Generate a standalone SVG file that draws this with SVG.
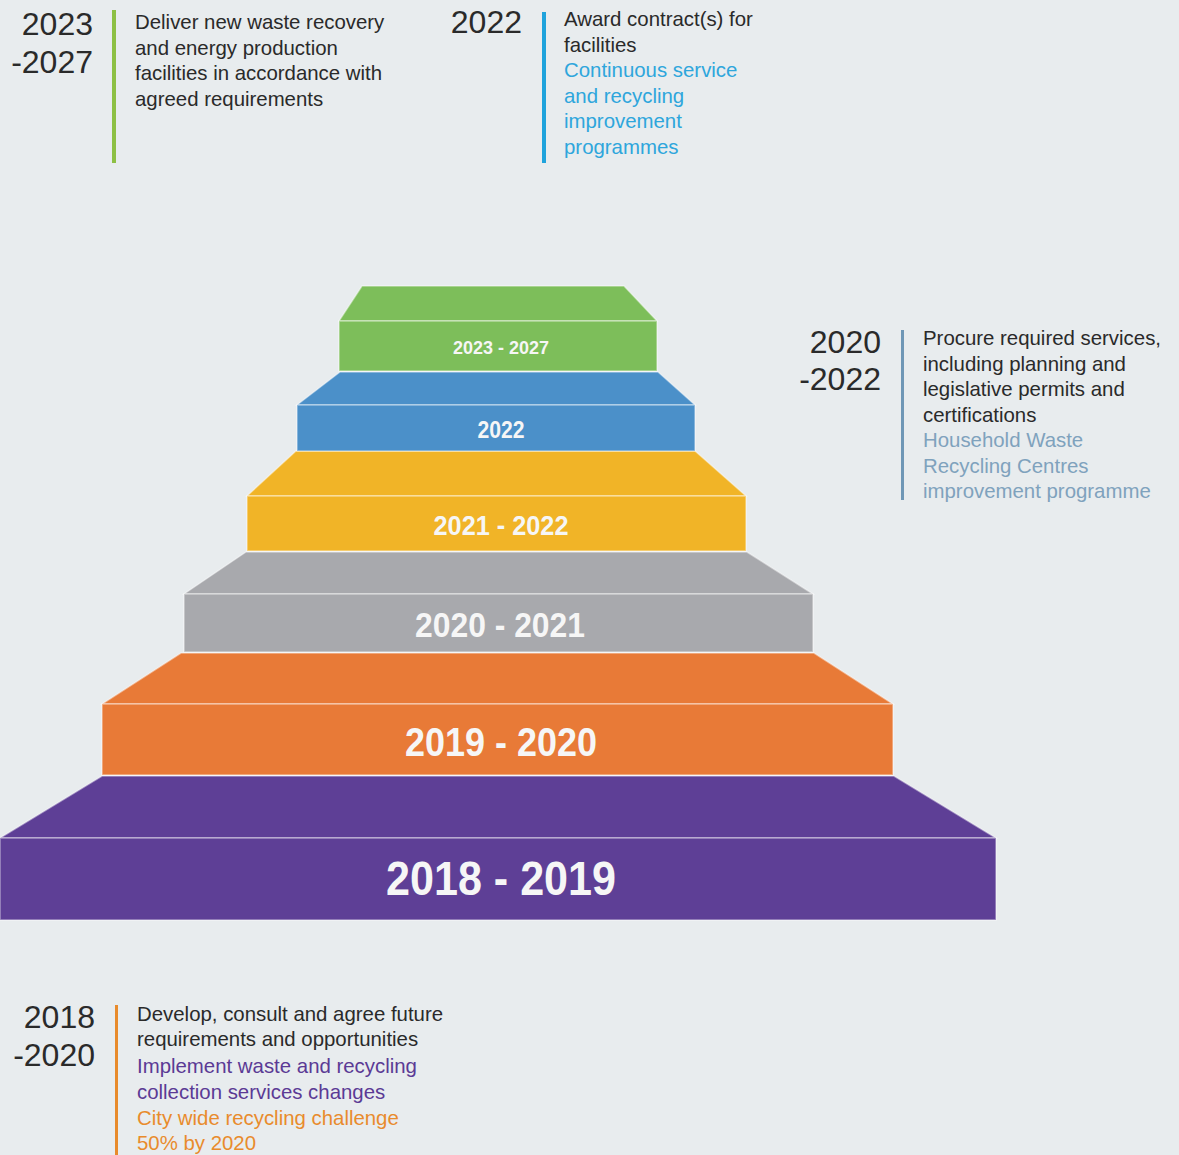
<svg xmlns="http://www.w3.org/2000/svg" width="1179" height="1155" viewBox="0 0 1179 1155">
<style>
.yr{font-family:"Liberation Sans",Arial,sans-serif;font-size:32px;fill:#2a2a2a;text-anchor:end}
.tx{font-family:"Liberation Sans",Arial,sans-serif;font-size:20.4px;fill:#2a2a2a}
.bl{fill:#2ea6dc}
.sb{fill:#7fa2bd}
.pu{fill:#5b3a95}
.or{fill:#e88b2c}
.lab{font-family:"Liberation Sans",Arial,sans-serif;font-weight:bold;fill:#f6f6f6;text-anchor:middle}
.face{stroke:#ffffff;stroke-opacity:0.45;stroke-width:1.5}
</style>
<rect x="0" y="0" width="1179" height="1155" fill="#e8ecee"/>

<g id="step-2018-2019">
<polygon class="face" points="102,776 894,776 996,838 0,838" fill="#5e3f96"/>
<rect class="face" x="0" y="838" width="996" height="82" fill="#5e3f96"/>
<text class="lab" x="501" y="895" font-size="48" textLength="230" lengthAdjust="spacingAndGlyphs">2018 - 2019</text>
</g>
<g id="step-2019-2020">
<polygon class="face" points="181,653 814,653 893,704 102,704" fill="#e87a37"/>
<rect class="face" x="102" y="704" width="791" height="71" fill="#e87a37"/>
<text class="lab" x="501" y="756" font-size="40" textLength="192" lengthAdjust="spacingAndGlyphs">2019 - 2020</text>
</g>
<g id="step-2020-2021">
<polygon class="face" points="246,552 747,552 813,594 184,594" fill="#a8a9ad"/>
<rect class="face" x="184" y="594" width="629" height="58" fill="#a8a9ad"/>
<text class="lab" x="500" y="637" font-size="35" textLength="170" lengthAdjust="spacingAndGlyphs">2020 - 2021</text>
</g>
<g id="step-2021-2022">
<polygon class="face" points="296,451 695,451 746,496 247,496" fill="#f1b427"/>
<rect class="face" x="247" y="496" width="499" height="55" fill="#f1b427"/>
<text class="lab" x="501" y="535" font-size="28" textLength="135" lengthAdjust="spacingAndGlyphs">2021 - 2022</text>
</g>
<g id="step-2022">
<polygon class="face" points="340,372 658,372 695,405 297,405" fill="#4b90c9"/>
<rect class="face" x="297" y="405" width="398" height="46" fill="#4b90c9"/>
<text class="lab" x="501" y="438" font-size="23" textLength="47" lengthAdjust="spacingAndGlyphs">2022</text>
</g>
<g id="step-2023-2027">
<polygon class="face" points="362,286 624,286 657,321 339,321" fill="#7dbe5a"/>
<rect class="face" x="339" y="321" width="318" height="50" fill="#7dbe5a"/>
<text class="lab" x="501" y="354" font-size="19" textLength="96" lengthAdjust="spacingAndGlyphs">2023 - 2027</text>
</g>

<g id="note-2023-2027">
<text class="yr" x="93" y="35">2023</text>
<text class="yr" x="93" y="73">-2027</text>
<rect x="112" y="10" width="4" height="153" fill="#8dc044"/>
<text class="tx" x="135" y="29">Deliver new waste recovery</text>
<text class="tx" x="135" y="54.5">and energy production</text>
<text class="tx" x="135" y="80">facilities in accordance with</text>
<text class="tx" x="135" y="105.5">agreed requirements</text>
</g>

<g id="note-2022">
<text class="yr" x="522" y="33">2022</text>
<rect x="542" y="12" width="4" height="151" fill="#1fa3dc"/>
<text class="tx" x="564" y="26">Award contract(s) for</text>
<text class="tx" x="564" y="51.5">facilities</text>
<text class="tx bl" x="564" y="77">Continuous service</text>
<text class="tx bl" x="564" y="102.5">and recycling</text>
<text class="tx bl" x="564" y="128">improvement</text>
<text class="tx bl" x="564" y="153.5">programmes</text>
</g>

<g id="note-2020-2022">
<text class="yr" x="881" y="353">2020</text>
<text class="yr" x="881" y="390">-2022</text>
<rect x="901" y="330" width="3" height="170" fill="#6f97b6"/>
<text class="tx" x="923" y="345">Procure required services,</text>
<text class="tx" x="923" y="370.5">including planning and</text>
<text class="tx" x="923" y="396">legislative permits and</text>
<text class="tx" x="923" y="421.5">certifications</text>
<text class="tx sb" x="923" y="447">Household Waste</text>
<text class="tx sb" x="923" y="472.5">Recycling Centres</text>
<text class="tx sb" x="923" y="498">improvement programme</text>
</g>

<g id="note-2018-2020">
<text class="yr" x="95" y="1028">2018</text>
<text class="yr" x="95" y="1066">-2020</text>
<rect x="115" y="1005" width="3" height="150" fill="#e88b2c"/>
<text class="tx" x="137" y="1020.5">Develop, consult and agree future</text>
<text class="tx" x="137" y="1046">requirements and opportunities</text>
<text class="tx pu" x="137" y="1073">Implement waste and recycling</text>
<text class="tx pu" x="137" y="1098.5">collection services changes</text>
<text class="tx or" x="137" y="1124.5">City wide recycling challenge</text>
<text class="tx or" x="137" y="1150">50% by 2020</text>
</g>
</svg>
